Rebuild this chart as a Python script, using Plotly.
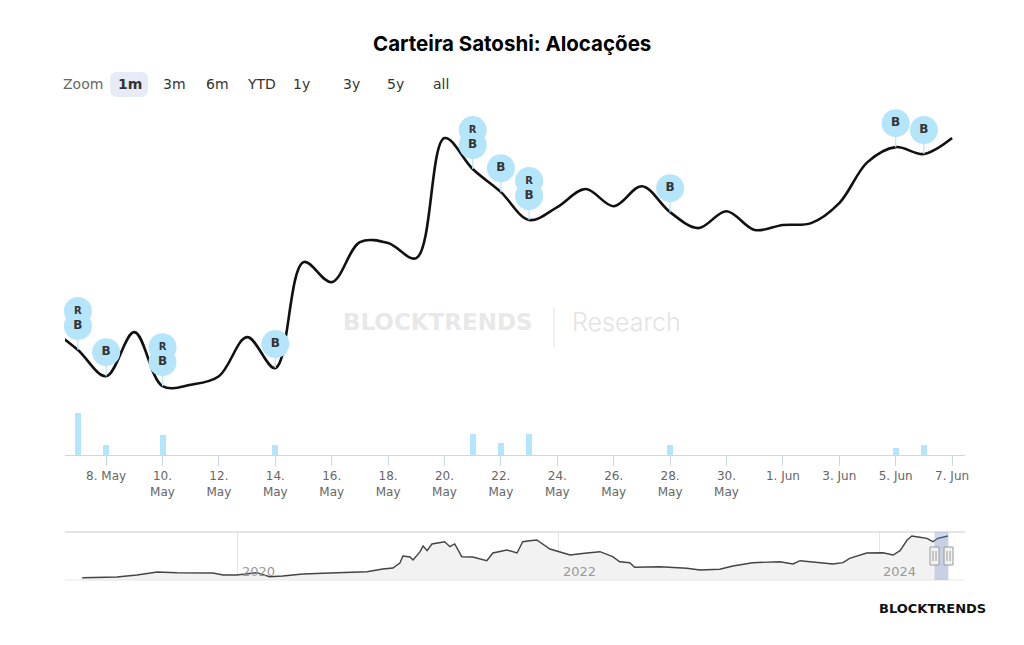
import plotly.graph_objects as go

# ---------------- data ----------------
line_dates = ["2024-05-06", "2024-05-07", "2024-05-08", "2024-05-09", "2024-05-10", "2024-05-11",
              "2024-05-12", "2024-05-13", "2024-05-14", "2024-05-15", "2024-05-16", "2024-05-17",
              "2024-05-18", "2024-05-19", "2024-05-20", "2024-05-21", "2024-05-22", "2024-05-23",
              "2024-05-24", "2024-05-25", "2024-05-26", "2024-05-27", "2024-05-28", "2024-05-29",
              "2024-05-30", "2024-05-31", "2024-06-01", "2024-06-02", "2024-06-03", "2024-06-04",
              "2024-06-05", "2024-06-06", "2024-06-07"]
line_values = [92.02, 91.10, 90.00, 91.85, 89.58, 89.64,
               90.00, 91.64, 90.34, 94.79, 93.95, 95.63,
               95.59, 94.96, 100.00, 98.70, 97.73, 96.56,
               97.10, 97.86, 97.14, 97.98, 96.89, 96.22,
               96.93, 96.14, 96.35, 96.43, 97.27, 98.99,
               99.62, 99.33, 100.00]

bar_dates = ["2024-05-07", "2024-05-08", "2024-05-10", "2024-05-14", "2024-05-21",
             "2024-05-22", "2024-05-23", "2024-05-28", "2024-06-05", "2024-06-06"]
bar_values = [42, 10, 20, 10, 21, 12, 21, 10, 7, 10]

b_flag_dates = ["2024-05-07", "2024-05-08", "2024-05-10", "2024-05-14", "2024-05-21",
                "2024-05-22", "2024-05-23", "2024-05-28", "2024-06-05", "2024-06-06"]
r_flag_dates = ["2024-05-07", "2024-05-10", "2024-05-21", "2024-05-23"]

tick_dates = ["2024-05-08", "2024-05-10", "2024-05-12", "2024-05-14", "2024-05-16", "2024-05-18",
              "2024-05-20", "2024-05-22", "2024-05-24", "2024-05-26", "2024-05-28", "2024-05-30",
              "2024-06-01", "2024-06-03", "2024-06-05", "2024-06-07"]
tick_labels = ["8. May", "10.<br>May", "12.<br>May", "14.<br>May", "16.<br>May", "18.<br>May",
               "20.<br>May", "22.<br>May", "24.<br>May", "26.<br>May", "28.<br>May", "30.<br>May",
               "1. Jun", "3. Jun", "5. Jun", "7. Jun"]

nav_dates = ["2019-01-11", "2019-03-31", "2019-05-16", "2019-07-01", "2019-08-15", "2019-09-30",
             "2019-11-05", "2019-11-28", "2019-12-29", "2020-02-13", "2020-03-13", "2020-04-12",
             "2020-05-28", "2020-07-28", "2020-09-12", "2020-10-21", "2020-11-26", "2020-12-19",
             "2021-01-04", "2021-01-11", "2021-01-27", "2021-02-03", "2021-02-19", "2021-02-26",
             "2021-03-07", "2021-03-18", "2021-04-16", "2021-04-28", "2021-05-09", "2021-05-25",
             "2021-06-19", "2021-07-21", "2021-08-04", "2021-09-05", "2021-09-28", "2021-10-11",
             "2021-10-27", "2021-11-12", "2021-12-12", "2022-01-04", "2022-01-27", "2022-03-06",
             "2022-04-05", "2022-05-04", "2022-05-20", "2022-06-12", "2022-06-23", "2022-08-19",
             "2022-10-20", "2022-11-19", "2023-01-03", "2023-02-02", "2023-03-19", "2023-05-20",
             "2023-06-19", "2023-07-05", "2023-08-19", "2023-09-18", "2023-10-11", "2023-10-26",
             "2023-12-04", "2024-01-10", "2024-02-02", "2024-02-18", "2024-03-05", "2024-03-16",
             "2024-04-03", "2024-04-19", "2024-05-03", "2024-05-14", "2024-06-06"]
nav_values = [5.3, 6.9, 11.5, 18.4, 16.8, 16.1,
              16.1, 11.5, 11.5, 16.8, 7.6, 9.2,
              13.8, 16.1, 16.8, 19.1, 25.3, 27.6,
              39.1, 55.2, 52.9, 46.0, 65.1, 78.2,
              67.4, 82.8, 88.1, 76.6, 82.8, 53.6,
              52.9, 44.4, 62.1, 69.0, 62.1, 88.1,
              90.4, 92.0, 71.3, 65.1, 57.5, 62.1,
              65.1, 53.6, 42.1, 39.8, 29.2, 30.6,
              26.9, 23.0, 24.6, 32.2, 39.8, 42.1,
              36.8, 44.4, 39.8, 36.8, 39.8, 49.9,
              62.1, 62.8, 57.5, 67.4, 92.0, 101.2,
              98.2, 95.9, 88.1, 95.9, 101.2]
nav_tick_dates = ["2020-01-01", "2022-01-01", "2024-01-01"]
nav_tick_labels = ["2020", "2022", "2024"]

zoom_buttons = ["1m", "3m", "6m", "YTD", "1y", "3y", "5y", "all"]

# ---------------- layout constants ----------------
W, H = 1024, 645
ML, MR, MT, MB = 65, 59, 100, 65
PW, PH = W - ML - MR, H - MT - MB


def PX(x):
    return (x - ML) / PW


def PY(y):
    return (H - MB - y) / PH


MAIN_RANGE = ["2024-05-06 13:00", "2024-06-07 11:00"]
NAV_RANGE = ["2018-12-02 17:00", "2024-07-15"]
Y_RANGE = [88.58, 101.60]
Y_DOMAIN = [PY(410), 1.0]
Y2_DOMAIN = [PY(455), PY(410)]
Y3_DOMAIN = [0.0, PY(532)]

FLAG_COLOR = "#b5e5fb"
value_of = dict(zip(line_dates, line_values))
px_unit = (Y_RANGE[1] - Y_RANGE[0]) / ((Y_DOMAIN[1] - Y_DOMAIN[0]) * PH)
r_y = [value_of[d] + 39 * px_unit for d in r_flag_dates]
b_y = [value_of[d] + 24 * px_unit for d in b_flag_dates]

fig = go.Figure()

# main line
fig.add_trace(go.Scatter(x=line_dates, y=line_values, mode="lines",
                         line=dict(color="#111111", width=2.6, shape="spline", smoothing=1.0),
                         xaxis="x", yaxis="y", hoverinfo="x+y", showlegend=False))

# flag stems
stem_x, stem_y = [], []
for d in b_flag_dates:
    stem_x += [d, d, None]
    stem_y += [value_of[d], value_of[d] + 24 * px_unit, None]
fig.add_trace(go.Scatter(x=stem_x, y=stem_y, mode="lines",
                         line=dict(color=FLAG_COLOR, width=1.2),
                         xaxis="x", yaxis="y", hoverinfo="skip", showlegend=False))

# flag circles
fig.add_trace(go.Scatter(x=r_flag_dates + b_flag_dates, y=r_y + b_y, mode="markers",
                         marker=dict(size=28, color=FLAG_COLOR, line=dict(width=0)),
                         xaxis="x", yaxis="y", hoverinfo="skip", showlegend=False, cliponaxis=False))
# flag letters (drawn above all circles)
fig.add_trace(go.Scatter(x=r_flag_dates, y=r_y, mode="text", text=["R"] * len(r_flag_dates),
                         textposition="middle center",
                         textfont=dict(family="DejaVu Sans", size=10, color="#333333", weight="bold"),
                         xaxis="x", yaxis="y", hoverinfo="skip", showlegend=False, cliponaxis=False))
fig.add_trace(go.Scatter(x=b_flag_dates, y=b_y, mode="text", text=["B"] * len(b_flag_dates),
                         textposition="middle center",
                         textfont=dict(family="DejaVu Sans", size=12, color="#333333", weight="bold"),
                         xaxis="x", yaxis="y", hoverinfo="skip", showlegend=False, cliponaxis=False))

# bars
fig.add_trace(go.Bar(x=bar_dates, y=bar_values, width=18.4e6,
                     marker=dict(color="#b3e5fc", line=dict(width=0)),
                     xaxis="x", yaxis="y2", hoverinfo="x+y", showlegend=False))

# navigator series
fig.add_trace(go.Scatter(x=nav_dates, y=nav_values, mode="lines", fill="tozeroy",
                         fillcolor="#f2f2f2", line=dict(color="#444444", width=1.4),
                         xaxis="x2", yaxis="y3", hoverinfo="skip", showlegend=False))

shapes = []
# navigator outline
shapes.append(dict(type="line", xref="paper", yref="paper", x0=0, x1=1, y0=PY(532), y1=PY(532),
                   line=dict(color="#cccccc", width=1)))
shapes.append(dict(type="line", xref="paper", yref="paper", x0=0, x1=1, y0=PY(580), y1=PY(580),
                   line=dict(color="#e6e6e6", width=1)))
# navigator mask
shapes.append(dict(type="rect", xref="x2", yref="paper", x0=MAIN_RANGE[0], x1=MAIN_RANGE[1],
                   y0=PY(580), y1=PY(532), fillcolor="rgba(102,133,194,0.3)", line=dict(width=0),
                   layer="above"))
# navigator handles
for d in MAIN_RANGE:
    shapes.append(dict(type="rect", xref="x2", yref="paper", xsizemode="pixel", xanchor=d,
                       x0=-4.5, x1=4.5, y0=PY(565), y1=PY(547), fillcolor="#f2f2f2",
                       line=dict(color="#999999", width=1), layer="above"))
    for off in (-1.5, 1.5):
        shapes.append(dict(type="line", xref="x2", yref="paper", xsizemode="pixel", xanchor=d,
                           x0=off, x1=off, y0=PY(561), y1=PY(551),
                           line=dict(color="#999999", width=1), layer="above"))

# selected zoom button background (rounded)
bx0, bx1, by0, by1 = PX(110), PX(148), PY(97), PY(72)
rx, ry = 7 / PW, 7 / PH
path = (f"M {bx0+rx},{by0} L {bx1-rx},{by0} Q {bx1},{by0} {bx1},{by0+ry} "
        f"L {bx1},{by1-ry} Q {bx1},{by1} {bx1-rx},{by1} L {bx0+rx},{by1} "
        f"Q {bx0},{by1} {bx0},{by1-ry} L {bx0},{by0+ry} Q {bx0},{by0} {bx0+rx},{by0} Z")
shapes.append(dict(type="path", xref="paper", yref="paper", path=path,
                   fillcolor="#e6ebf5", line=dict(width=0)))

# watermark separator
shapes.append(dict(type="line", xref="paper", yref="paper", x0=PX(554), x1=PX(554),
                   y0=PY(347), y1=PY(307), line=dict(color="#e8e8e8", width=1.2), layer="below"))

annotations = []
annotations.append(dict(text="<b>Carteira Satoshi: Alocações</b>", xref="paper", yref="paper",
                        x=PX(512), y=PY(43), xanchor="center", yanchor="middle", showarrow=False,
                        font=dict(family="Inter", size=20.5, color="#000000")))
annotations.append(dict(text="Zoom", xref="paper", yref="paper", x=PX(83), y=PY(84),
                        xanchor="center", yanchor="middle", showarrow=False,
                        font=dict(family="DejaVu Sans", size=14, color="#666666")))
btn_centers = [129.5, 174, 217.5, 261, 301, 351.5, 395.5, 440.5]
for lab, cx in zip(zoom_buttons, btn_centers):
    annotations.append(dict(text=lab, xref="paper", yref="paper", x=PX(cx), y=PY(84),
                            xanchor="center", yanchor="middle", showarrow=False,
                            font=dict(family="DejaVu Sans", size=14, color="#333333",
                                      weight="bold" if lab == "1m" else "normal")))
# navigator year labels
for d, lab in zip(nav_tick_dates, nav_tick_labels):
    annotations.append(dict(text=lab, xref="x2", yref="paper", x=d, y=PY(571),
                            xanchor="left", yanchor="middle", xshift=2, showarrow=False,
                            font=dict(family="DejaVu Sans", size=13, color="#999999")))
annotations.append(dict(text="BLOCKTRENDS", xref="paper", yref="paper", x=PX(535), y=PY(322),
                        xanchor="right", yanchor="middle", showarrow=False,
                        font=dict(family="DejaVu Sans", size=23, color="#e8e8e8", weight="bold")))
annotations.append(dict(text="Research", xref="paper", yref="paper", x=PX(570), y=PY(322),
                        xanchor="left", yanchor="middle", showarrow=False,
                        font=dict(family="Inter", size=25, color="#e3e3e3", weight=300)))
annotations.append(dict(text="BLOCKTRENDS", xref="paper", yref="paper", x=PX(988), y=PY(608),
                        xanchor="right", yanchor="middle", showarrow=False,
                        font=dict(family="DejaVu Sans", size=13, color="#111111", weight="bold")))

fig.update_layout(
    width=W, height=H,
    margin=dict(l=ML, r=MR, t=MT, b=MB),
    paper_bgcolor="#ffffff", plot_bgcolor="#ffffff",
    font=dict(family="DejaVu Sans", size=12, color="#666666"),
    showlegend=False, bargap=0,
    xaxis=dict(type="date", range=MAIN_RANGE, domain=[0, 1], anchor="y2",
               tickvals=tick_dates, ticktext=tick_labels, tickmode="array",
               showgrid=False, zeroline=False, showline=True, linecolor="#ccd6eb", linewidth=1,
               ticks="outside", ticklen=10, tickcolor="#ccd6eb", tickwidth=1,
               tickfont=dict(family="DejaVu Sans", size=12, color="#666666")),
    yaxis=dict(domain=Y_DOMAIN, range=Y_RANGE, anchor="x", visible=False),
    yaxis2=dict(domain=Y2_DOMAIN, range=[0, 45], anchor="x", visible=False),
    xaxis2=dict(type="date", range=NAV_RANGE, domain=[0, 1], anchor="y3",
                tickvals=nav_tick_dates, tickmode="array", showticklabels=False, ticks="",
                showgrid=True, gridcolor="#e6e6e6", gridwidth=1, zeroline=False, showline=False),
    yaxis3=dict(domain=Y3_DOMAIN, range=[0, 110.4], anchor="x2", visible=False),
    shapes=shapes, annotations=annotations,
)

fig.write_html("out.html")
